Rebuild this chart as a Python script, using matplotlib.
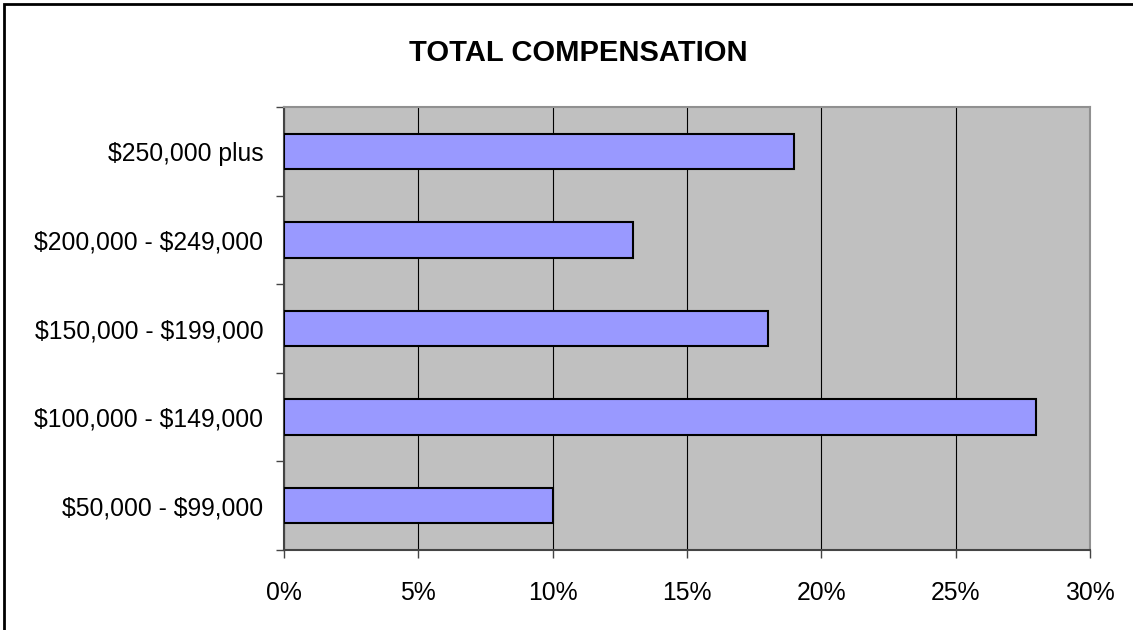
import matplotlib
matplotlib.use("Agg")
import matplotlib.pyplot as plt
from matplotlib.patches import Rectangle
from matplotlib.ticker import MultipleLocator, FixedLocator, PercentFormatter

plt.rcParams['font.family'] = ['Liberation Sans', 'DejaVu Sans']
plt.rcParams['text.parse_math'] = False  # labels carry literal dollar signs

# salary brackets, bottom to top
brackets = ["$50,000 - $99,000", "$100,000 - $149,000", "$150,000 - $199,000",
            "$200,000 - $249,000", "$250,000 plus"]
share_pct = [10, 28, 18, 13, 19]

fig = plt.figure(figsize=(11.33, 6.3), dpi=100)
ax = fig.add_axes([284 / 1133, 1 - 550 / 630, (1090 - 284) / 1133, (550 - 107) / 630])

ypos = range(len(brackets))
ax.barh(ypos, share_pct, height=0.4, color="#9999FF", edgecolor="black", linewidth=1.5, zorder=3)

ax.set_facecolor("#C0C0C0")
ax.set_xlim(0, 30)
ax.set_ylim(-0.5, len(brackets) - 0.5)
ax.xaxis.set_major_locator(MultipleLocator(5))
ax.xaxis.set_major_formatter(PercentFormatter(decimals=0))
ax.grid(axis="x", color="black", linewidth=0.8, zorder=1)
ax.set_axisbelow(True)

# category labels sit between the boundary ticks
ax.set_yticks(list(ypos))
ax.set_yticklabels(brackets)
ax.yaxis.set_minor_locator(FixedLocator([i - 0.5 for i in range(len(brackets) + 1)]))
ax.tick_params(axis="y", which="major", length=0, pad=15, labelsize=17.8)
ax.tick_params(axis="y", which="minor", length=6, width=1, color="#444444")
ax.tick_params(axis="x", length=6, width=1, color="#444444", pad=16, labelsize=17.8)

for side in ("left", "bottom"):
    ax.spines[side].set_color("#444444")
    ax.spines[side].set_linewidth(1.5)
for side in ("top", "right"):
    ax.spines[side].set_color("#909090")
    ax.spines[side].set_linewidth(1.5)

fig.text(578 / 1133, 1 - 53 / 630, "TOTAL COMPENSATION", ha="center", va="center",
         fontsize=21, fontweight="bold")

# outer chart frame
fig.patches.append(Rectangle((4 / 1133, -0.1), 1.2, 1 - 4 / 630 + 0.1, transform=fig.transFigure,
                             fill=False, edgecolor="black", linewidth=2))

fig.savefig("out.png", dpi=100)
